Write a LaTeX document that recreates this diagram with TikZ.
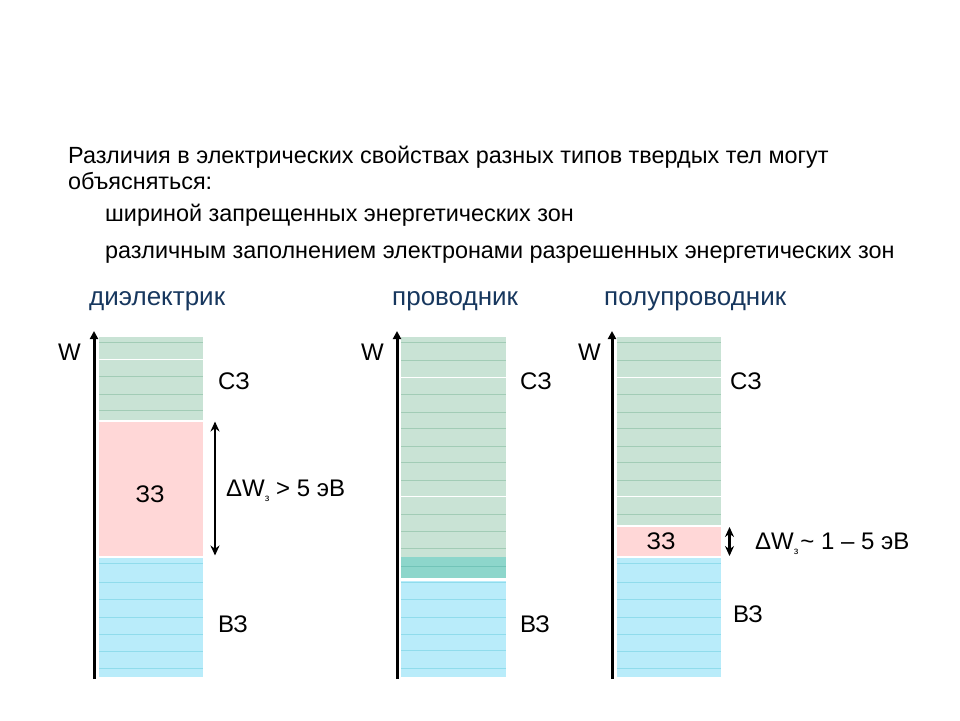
\documentclass[tikz,border=0pt]{standalone}
\usepackage{fontspec}
\setmainfont{Liberation Sans}
\usetikzlibrary{arrows.meta}
\definecolor{czfill}{HTML}{C9E3D5}
\definecolor{czline}{HTML}{A2CCB6}
\definecolor{zzfill}{HTML}{FFD7D7}
\definecolor{vzfill}{HTML}{B9ECFA}
\definecolor{vzline}{HTML}{90DCEC}
\definecolor{tealfill}{HTML}{8DD6CB}
\definecolor{tealline}{HTML}{72C4B8}
\definecolor{headblue}{HTML}{17375E}
\tikzset{
  maintext/.style={anchor=base west, inner sep=0pt, font=\fontsize{23.4}{28}\selectfont},
  headtext/.style={anchor=base west, inner sep=0pt, text=headblue, font=\fontsize{26}{30}\selectfont},
  lbl/.style={anchor=base west, inner sep=0pt, font=\fontsize{24}{28}\selectfont},
  ctrlbl/.style={anchor=center, inner sep=0pt, font=\fontsize{24}{28}\selectfont},
  axis/.style={line width=3pt, -{Triangle[length=8pt,width=8pt]}},
  gaparrow/.style={line width=2.6pt, {Stealth[length=10pt,width=9pt]}-{Stealth[length=10pt,width=9pt]}},
  bandline/.style={line width=0.8pt},
}
\newcommand{\subz}{{\fontsize{10}{10}\selectfont\raisebox{-5pt}{з}}}
\begin{document}
\begin{tikzpicture}[x=1pt,y=-1pt]
\useasboundingbox (0,0) rectangle (960,720);

% texts
\node[maintext] (t1) at (68,163) {Различия в электрических свойствах разных типов твердых тел могут};
\node[maintext] (t2) at (68,189) {объясняться:};
\node[maintext] (t3) at (105,221) {шириной запрещенных энергетических зон};
\node[maintext] (t4) at (105,258) {различным заполнением электронами разрешенных энергетических зон};
\node[headtext] (h1) at (89,305) {диэлектрик};
\node[headtext] (h2) at (392,305) {проводник};
\node[headtext] (h3) at (604,305) {полупроводник};

% ===== column 1: dielectric =====
\fill[czfill] (99,337) rectangle (203,419.5);
\fill[zzfill] (99,421.5) rectangle (203,555.5);
\fill[vzfill] (99,557.5) rectangle (203,677);
\foreach \y in {342.7,376.7,394,410.7} \draw[czline,bandline] (99,\y) -- (203,\y);
\draw[white,bandline] (99,359.3) -- (203,359.3);
\foreach \y in {563,582,599.3,617,634,651,668} \draw[vzline,bandline] (99,\y) -- (203,\y);
\coordinate (a1b) at (94,679);
\coordinate (a1t) at (94,331);
\draw[axis] (a1b) -- (a1t);
\coordinate (g1t) at (215,421.5);
\coordinate (g1b) at (215,555.5);
\draw[gaparrow] (g1t) -- (g1b);
\node[lbl] (w1) at (58,360.5) {W};
\node[lbl] (c1) at (218,389.5) {СЗ};
\node[ctrlbl] (z1) at (150,494) {ЗЗ};
\node[lbl] (v1) at (218,632.5) {ВЗ};
\node[lbl] (d1) at (226,496.5) {ΔW\subz{} > 5 эВ};

% ===== column 2: conductor =====
\fill[czfill] (401,337) rectangle (506,556.5);
\fill[tealfill] (401,556.5) rectangle (506,578.3);
\fill[vzfill] (401,580.5) rectangle (506,677);
\foreach \y in {342.7,360.7,394,412,428.7,446,462.7,480.7,514,531.3,548.7} \draw[czline,bandline] (401,\y) -- (506,\y);
\foreach \y in {377.3,496.7} \draw[white,bandline] (401,\y) -- (506,\y);
\draw[tealline,bandline] (401,566) -- (506,566);
\foreach \y in {582.7,599.3,617,634,650.7,668} \draw[vzline,bandline] (401,\y) -- (506,\y);
\coordinate (a2b) at (397,679);
\coordinate (a2t) at (397,331);
\draw[axis] (a2b) -- (a2t);
\node[lbl] (w2) at (361,360.5) {W};
\node[lbl] (c2) at (520,389.5) {СЗ};
\node[lbl] (v2) at (520,632.5) {ВЗ};

% ===== column 3: semiconductor =====
\fill[czfill] (617,337) rectangle (721,525);
\fill[zzfill] (617,527) rectangle (721,556);
\fill[vzfill] (617,557.5) rectangle (721,677);
\foreach \y in {342.7,360.7,394,412,428.7,446,462.7,480.7,514} \draw[czline,bandline] (617,\y) -- (721,\y);
\foreach \y in {377.3,496.7} \draw[white,bandline] (617,\y) -- (721,\y);
\foreach \y in {563,582,599.3,617,634,651,668} \draw[vzline,bandline] (617,\y) -- (721,\y);
\coordinate (a3b) at (612,679);
\coordinate (a3t) at (612,331);
\draw[axis] (a3b) -- (a3t);
\coordinate (g3t) at (729.5,527);
\coordinate (g3b) at (729.5,556);
\draw[gaparrow] (g3t) -- (g3b);
\node[lbl] (w3) at (578,360.5) {W};
\node[lbl] (c3) at (730,389.5) {СЗ};
\node[ctrlbl] (z3) at (661,541) {ЗЗ};
\node[lbl] (v3) at (733,622.5) {ВЗ};
\node[lbl] (d3) at (755,549.5) {ΔW\subz{}\hspace{2pt}\char"007E{} 1 – 5 эВ};
\end{tikzpicture}
\end{document}
